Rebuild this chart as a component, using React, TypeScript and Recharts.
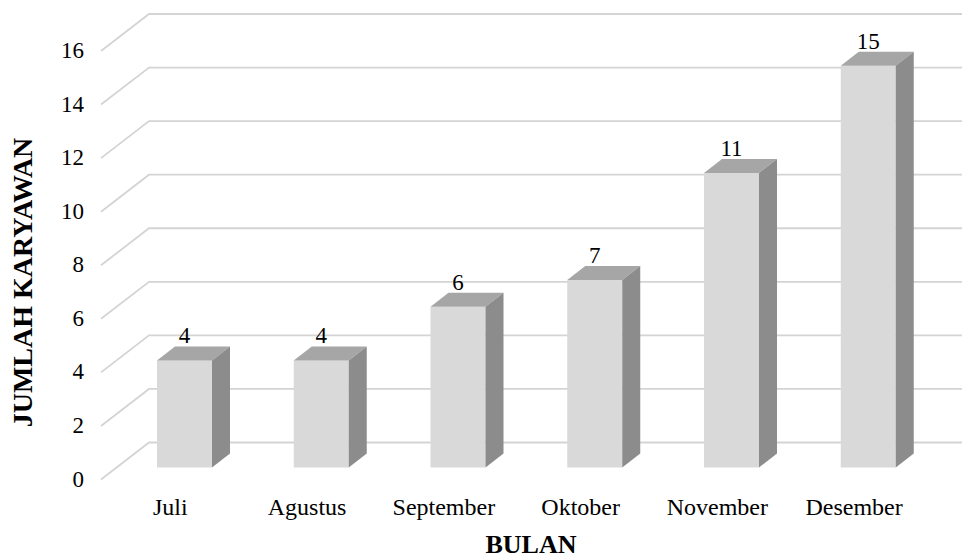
import { Bar, BarChart, CartesianGrid, Label, LabelList, XAxis, YAxis } from "recharts"

const bulan = ["Juli", "Agustus", "September", "Oktober", "November", "Desember"]
const jumlah = [4, 4, 6, 7, 11, 15]
const yTicks = [0, 2, 4, 6, 8, 10, 12, 14, 16]

const data = bulan.map((b, i) => ({ bulan: b, jumlah: jumlah[i] }))

const FONT = "Liberation Serif, Times New Roman, serif"
const DX = 18
const DY = 14

const Bar3D = (props: any) => {
  const { x, y, width, height } = props
  if (!height) return null
  return (
    <g>
      <rect x={x} y={y} width={width} height={height} fill="#D9D9D9" />
      <polygon
        points={`${x},${y} ${x + DX},${y - DY} ${x + width + DX},${y - DY} ${x + width},${y}`}
        fill="#A6A6A6"
      />
      <polygon
        points={`${x + width},${y} ${x + width + DX},${y - DY} ${x + width + DX},${y + height - DY} ${x + width},${y + height}`}
        fill="#8C8C8C"
      />
    </g>
  )
}

// grid line with the diagonal "floor" segment at the left
const GridLine = (props: any) => {
  const { y1, x2 } = props
  return (
    <polyline
      key={props.key}
      points={`101,${y1 + 12} 149,${y1 - 25} ${x2 + 25.5},${y1 - 25}`}
      fill="none"
      stroke="#D4D4D4"
      strokeWidth={1.8}
    />
  )
}

const App = () => {
  return (
    <div style={{ position: "absolute", left: 0, top: 0, fontFamily: FONT }}>
      <BarChart width={962} height={558} data={data} margin={{ top: 39, right: 25.5, bottom: 0, left: 0 }}>
        <CartesianGrid vertical={false} horizontal={GridLine} />
        <XAxis
          dataKey="bulan"
          height={90.5}
          axisLine={false}
          tickLine={false}
          interval={0}
          tick={(p: any) => (
            <text x={p.x - 14} y={515} textAnchor="middle" style={{ fontFamily: FONT }} fontSize={24} fill="#000">
              {p.payload.value}
            </text>
          )}
        >
          <Label
            content={() => (
              <text x={531} y={553} textAnchor="middle" style={{ fontFamily: FONT }} fontSize={26} fontWeight="bold" fill="#000">
                BULAN
              </text>
            )}
          />
        </XAxis>
        <YAxis
          width={116}
          domain={[0, 16]}
          ticks={yTicks}
          axisLine={false}
          tickLine={false}
          tick={(p: any) => (
            <text x={84} y={p.y + 19} textAnchor="end" style={{ fontFamily: FONT }} fontSize={23} fill="#000">
              {p.payload.value}
            </text>
          )}
        >
          <Label
            content={() => (
              <text
                x={0}
                y={0}
                transform="translate(32,282.5) rotate(-90)"
                textAnchor="middle"
                style={{ fontFamily: FONT }}
                fontSize={28}
                fontWeight="bold"
                fill="#000"
              >
                JUMLAH KARYAWAN
              </text>
            )}
          />
        </YAxis>
        <Bar dataKey="jumlah" barSize={55} shape={Bar3D} isAnimationActive={false}>
          <LabelList
            dataKey="jumlah"
            content={(p: any) => (
              <text
                x={p.x + p.width / 2}
                y={p.y - 17}
                textAnchor="middle"
                style={{ fontFamily: FONT }}
                fontSize={23}
                fill="#000"
              >
                {p.value}
              </text>
            )}
          />
        </Bar>
      </BarChart>
    </div>
  )
}

export default App
